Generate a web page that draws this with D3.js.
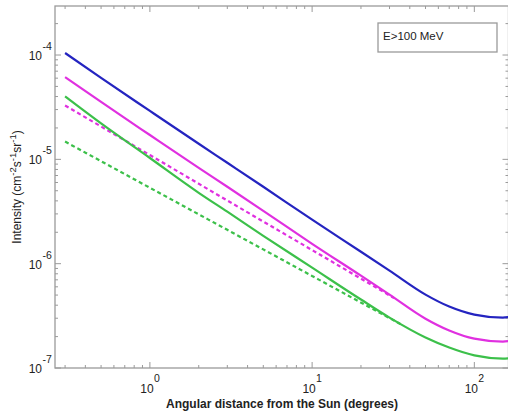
<!DOCTYPE html>
<html><head><meta charset="utf-8">
<script src="https://cdn.jsdelivr.net/npm/d3@7"></script>
<style>
html,body{margin:0;padding:0;background:#fff;}
text{font-family:"Liberation Sans",Arial,sans-serif;fill:#222;}
</style></head>
<body><svg id="c" width="508" height="415"></svg>
<script>
// ---- data ----
const angles = [0.3, 0.5, 1, 2, 3, 5, 10, 20, 30, 50, 70, 100, 150, 162];
const blueSolid = [1.045e-4, 6.03e-5, 2.91e-5, 1.41e-5, 9.27e-6, 5.46e-6, 2.64e-6, 1.30e-6, 8.57e-7, 5.05e-7, 3.88e-7, 3.25e-7, 3.04e-7, 3.07e-7];
const magentaSolid = [6.15e-5, 3.55e-5, 1.71e-5, 8.28e-6, 5.46e-6, 3.21e-6, 1.55e-6, 7.67e-7, 5.05e-7, 2.97e-7, 2.29e-7, 1.91e-7, 1.79e-7, 1.81e-7];
const greenSolid = [4.01e-5, 2.21e-5, 1.03e-5, 4.78e-6, 3.15e-6, 1.85e-6, 9.16e-7, 4.53e-7, 3.04e-7, 1.96e-7, 1.57e-7, 1.32e-7, 1.23e-7, 1.24e-7];
const magentaDashAngles = [0.3, 1, 3, 10, 32];
const magentaDashed = [3.28e-5, 1.10e-5, 4.03e-6, 1.35e-6, 4.68e-7];
const greenDashAngles = [0.3, 1, 3, 10, 35];
const greenDashed = [1.48e-5, 5.34e-6, 2.11e-6, 7.62e-7, 2.64e-7];
const xMajorTicks = [1, 10, 100];
const xMajorExp = ["0", "1", "2"];
const yMajorTicks = [1e-4, 1e-5, 1e-6, 1e-7];
const yMajorExp = ["-4", "-5", "-6", "-7"];
const legendText = "E>100 MeV";
const xTitle = "Angular distance from the Sun (degrees)";

// ---- layout ----
const L = 55, R = 508.5, T = 6, B = 368;
const svg = d3.select("#c");
const x = d3.scaleLog().domain([0.26, 162.4]).range([L, R]);
const y = d3.scaleLog().domain([1e-7, 2.95e-4]).range([B, T]);
const axisCol = "#9a9a9a";

// frame
svg.append("rect").attr("x", L).attr("y", T).attr("width", R - L).attr("height", B - T)
  .attr("fill", "none").attr("stroke", axisCol).attr("stroke-width", 1.3);

// ticks
const xMinor = [];
[0.1, 1, 10, 100].forEach(d => { for (let k = 2; k <= 9; k++) { const v = d * k; if (v > 0.26 && v < 162) xMinor.push(v); } });
const yMinor = [];
[1e-7, 1e-6, 1e-5, 1e-4].forEach(d => { for (let k = 2; k <= 9; k++) { const v = d * k; if (v > 1e-7 && v < 2.95e-4) yMinor.push(v); } });
const tk = svg.append("g").attr("stroke", axisCol).attr("stroke-width", 1);
xMinor.forEach(v => {
  tk.append("line").attr("x1", x(v)).attr("x2", x(v)).attr("y1", B).attr("y2", B - 3);
  tk.append("line").attr("x1", x(v)).attr("x2", x(v)).attr("y1", T).attr("y2", T + 3);
});
xMajorTicks.forEach(v => {
  tk.append("line").attr("x1", x(v)).attr("x2", x(v)).attr("y1", B).attr("y2", B - 6);
  tk.append("line").attr("x1", x(v)).attr("x2", x(v)).attr("y1", T).attr("y2", T + 6);
});
yMinor.forEach(v => {
  tk.append("line").attr("x1", L).attr("x2", L + 3).attr("y1", y(v)).attr("y2", y(v));
  tk.append("line").attr("x1", R).attr("x2", R - 3).attr("y1", y(v)).attr("y2", y(v));
});
yMajorTicks.forEach(v => {
  tk.append("line").attr("x1", L).attr("x2", L + 6).attr("y1", y(v)).attr("y2", y(v));
  tk.append("line").attr("x1", R).attr("x2", R - 6).attr("y1", y(v)).attr("y2", y(v));
});

// tick labels
xMajorTicks.forEach((v, i) => {
  svg.append("text").attr("x", x(v) - 3).attr("y", 393).attr("text-anchor", "middle")
    .attr("font-size", 12).text("10");
  svg.append("text").attr("x", x(v) + 4).attr("y", 382).attr("text-anchor", "start")
    .attr("font-size", 10.5).text(xMajorExp[i]);
});
yMajorTicks.forEach((v, i) => {
  svg.append("text").attr("x", 42).attr("y", y(v) + 5).attr("text-anchor", "end")
    .attr("font-size", 12).text("10");
  svg.append("text").attr("x", 42.5).attr("y", y(v) - 5).attr("text-anchor", "start")
    .attr("font-size", 10.5).text(yMajorExp[i]);
});

// axis titles
svg.append("text").attr("x", 282).attr("y", 408).attr("text-anchor", "middle")
  .attr("font-size", 12).attr("font-weight", "bold").text(xTitle);
const yt = svg.append("text").attr("transform", "translate(21,187) rotate(-90)")
  .attr("text-anchor", "middle").attr("font-size", 12);
yt.append("tspan").text("Intensity (cm");
yt.append("tspan").attr("dy", -5).attr("font-size", 9.5).text("-2");
yt.append("tspan").attr("dy", 5).text("s");
yt.append("tspan").attr("dy", -5).attr("font-size", 9.5).text("-1");
yt.append("tspan").attr("dy", 5).text("sr");
yt.append("tspan").attr("dy", -5).attr("font-size", 9.5).text("-1");
yt.append("tspan").attr("dy", 5).text(")");

// curves
const line = d3.line().x(d => x(d[0])).y(d => y(d[1])).curve(d3.curveMonotoneX);
const series = [
  { a: greenDashAngles, v: greenDashed, c: "#3cc04a", dash: "4,3" },
  { a: magentaDashAngles, v: magentaDashed, c: "#e030e0", dash: "4,3" },
  { a: angles, v: greenSolid, c: "#3cc04a", dash: null },
  { a: angles, v: magentaSolid, c: "#e030e0", dash: null },
  { a: angles, v: blueSolid, c: "#2424c0", dash: null }
];
series.forEach(s => {
  svg.append("path").datum(s.a.map((a, i) => [a, s.v[i]]))
    .attr("d", line).attr("fill", "none").attr("stroke", s.c)
    .attr("stroke-width", 2.2).attr("stroke-dasharray", s.dash);
});

// legend box
svg.append("rect").attr("x", 378).attr("y", 23).attr("width", 119).attr("height", 29)
  .attr("fill", "#fff").attr("stroke", axisCol).attr("stroke-width", 1.3);
svg.append("text").attr("x", 383).attr("y", 40).attr("font-size", 11.5).text(legendText);
</script></body></html>
